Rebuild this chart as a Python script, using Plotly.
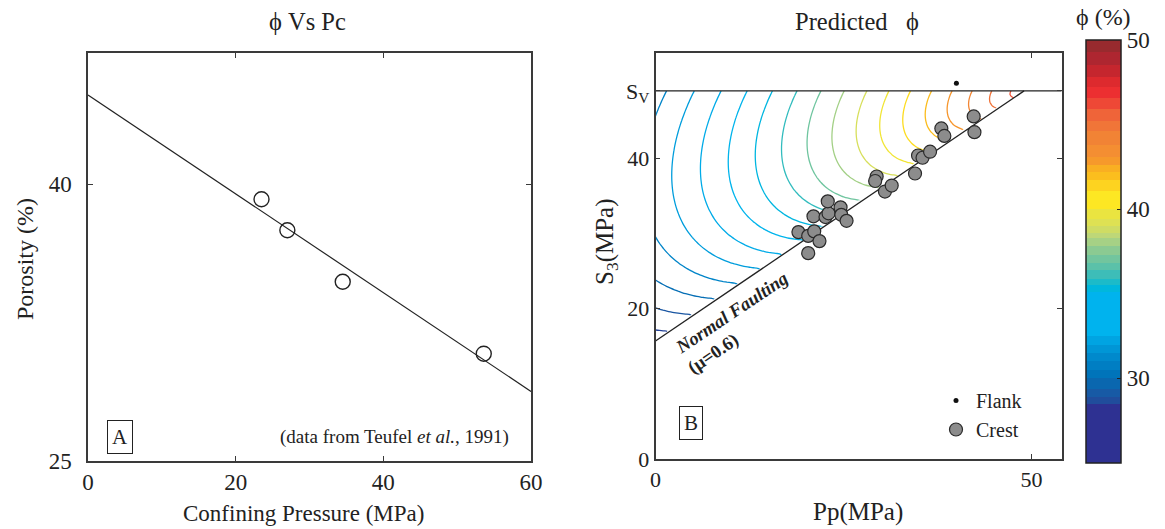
import numpy as np
import plotly.graph_objects as go

# ---- Teufel et al. (1991): porosity under hydrostatic loading -------------
pc_mpa = [23.5, 27.0, 34.5, 53.6]          # confining pressure (MPa)
porosity_pct = [39.0, 37.0, 33.9, 30.0]    # porosity (%)

# ---- field estimates: pore pressure vs. minimum horizontal stress ---------
crest_pp = [19.0, 20.3, 21.1, 21.8, 20.3, 21.0, 22.6, 23.0, 22.9, 24.6, 24.7, 25.4,
            29.4, 29.2, 30.5, 31.4, 34.5, 34.9, 35.5, 36.5, 38.0, 38.4, 42.3, 42.4]
crest_s3 = [30.2, 29.7, 30.3, 29.0, 27.4, 32.3, 32.2, 32.7, 34.3, 33.5, 32.5, 31.7,
            37.6, 37.0, 35.6, 36.4, 38.0, 40.4, 40.1, 40.9, 44.0, 43.0, 45.6, 43.5]
flank_pp = [40.0]
flank_s3 = [50.0]

SV = 49.0        # vertical (overburden) stress, MPa
MU = 0.6         # friction coefficient of the normal-faulting limit
CAP_M = 1.08     # aspect ratio of the elliptical compaction cap
PHI0 = 46.7      # porosity of the unloaded rock (%)
BETA = 116.0     # compaction length scale of the cap pressure (MPa)

# porosity colour table: lower edge of each band (%) and its colour
band_lo = [25, 28.5, 28.9, 29.4, 30, 30.5, 31, 31.5, 32, 32.5,
           35.1, 35.5, 35.9, 36.4, 36.8, 37.3, 37.8, 38.3, 38.6, 39,
           39.4, 40, 41.1, 41.7, 42.2, 42.6, 43.1, 43.8, 44.6, 45.2,
           45.9, 46.6, 47.2, 47.8, 48.5, 49.3]
band_col = ['#2E3192', '#204D9C', '#175AA5', '#0A67AF', '#0074BA', '#007EC3', '#0089CC',
            '#0096D6', '#00A4E2', '#00B3EE', '#00B7DD', '#1CBBC9', '#3DBDB8', '#5BC1A9',
            '#72C59E', '#8BCA92', '#A6D185', '#BED778', '#CFDC64', '#DEE153', '#EAE440',
            '#FDE723', '#FDD320', '#FBBE1E', '#F9AF22', '#F6992B', '#F48E32', '#F18335',
            '#F07538', '#EF6439', '#EE4836', '#EC2F31', '#DD2A2E', '#C5262E', '#AE2630',
            '#982A2E']
PHI_MIN, PHI_MAX = 25.0, 50.0

FONT = "Liberation Serif"
INK = "#222222"
W, H = 1165, 529

# ---- exponential compaction trend fitted to the laboratory data -----------
slope, intercept = np.polyfit(np.array(pc_mpa), np.log(porosity_pct), 1)
pc_line = np.array([0.0, 60.0])
phi_line = np.exp(intercept + slope * pc_line)

# ---- predicted porosity over (Pp, S3) using an elliptical cap -------------
X2_MAX, Y2_MAX = 54.0, 54.0
pp_grid = np.arange(0.0, X2_MAX + 1e-9, 0.5)
s3_grid = np.linspace(0.0, SV, int(round(SV / 0.5)) + 1)
PP, S3 = np.meshgrid(pp_grid, s3_grid)
fric = (np.sqrt(MU ** 2 + 1.0) + MU) ** 2
s3_fault = PP + (SV - PP) / fric
p_eff = (SV + S3) / 2.0 - PP
q_dev = SV - S3
with np.errstate(divide="ignore", invalid="ignore"):
    p_cap = p_eff + q_dev ** 2 / (CAP_M ** 2 * p_eff)
    phi_pred = PHI0 * np.exp(-p_cap / BETA)
phi_pred = np.where((S3 >= s3_fault - 1e-9) & (p_eff > 0), phi_pred, np.nan)

fault_pp = np.array([0.0, SV])
fault_s3 = fault_pp + (SV - fault_pp) / fric


# ---- colour scales ---------------------------------------------------------
def norm(v):
    return (v - PHI_MIN) / (PHI_MAX - PHI_MIN)


band_hi = band_lo[1:] + [PHI_MAX]
stepped = []
for lo, hi, c in zip(band_lo, band_hi, band_col):
    stepped.append([norm(lo), c])
    stepped.append([norm(hi), c])
smooth = [[0.0, band_col[0]]]
for lo, hi, c in zip(band_lo, band_hi, band_col):
    mid = norm((lo + hi) / 2.0)
    if mid > smooth[-1][0]:
        smooth.append([mid, c])
smooth.append([1.0, band_col[-1]])

fig = go.Figure()

# left panel: porosity vs confining pressure
fig.add_trace(go.Scatter(x=pc_line, y=phi_line, mode="lines",
                         line=dict(color=INK, width=1.2), showlegend=False,
                         xaxis="x", yaxis="y", hoverinfo="skip"))
fig.add_trace(go.Scatter(x=pc_mpa, y=porosity_pct, mode="markers",
                         marker=dict(symbol="circle-open", size=15, color=INK,
                                     line=dict(width=1.4)),
                         showlegend=False, xaxis="x", yaxis="y"))

# right panel: porosity contours
fig.add_trace(go.Contour(x=pp_grid, y=s3_grid, z=phi_pred, xaxis="x2", yaxis="y2",
                         autocontour=False,
                         contours=dict(coloring="lines", start=PHI_MIN, end=PHI_MAX, size=1),
                         colorscale=smooth, zmin=PHI_MIN, zmax=PHI_MAX,
                         line=dict(width=1.3), showscale=False, connectgaps=False,
                         hoverinfo="skip", showlegend=False))
fig.add_trace(go.Scatter(x=[0.0, X2_MAX], y=[SV, SV], mode="lines",
                         line=dict(color=INK, width=1.3), showlegend=False,
                         xaxis="x2", yaxis="y2", hoverinfo="skip"))
fig.add_trace(go.Scatter(x=fault_pp, y=fault_s3, mode="lines",
                         line=dict(color=INK, width=1.3), showlegend=False,
                         xaxis="x2", yaxis="y2", hoverinfo="skip"))
fig.add_trace(go.Scatter(x=flank_pp, y=flank_s3, mode="markers", name="Flank",
                         marker=dict(size=5, color="#111111"),
                         xaxis="x2", yaxis="y2"))
fig.add_trace(go.Scatter(x=crest_pp, y=crest_s3, mode="markers", name="Crest",
                         marker=dict(size=13, color="#8C8C8C",
                                     line=dict(color="#2A2A2A", width=1.2)),
                         xaxis="x2", yaxis="y2"))

# colour bar
CB_TOP, CB_BOTTOM = 40.0, 463.0
fig.add_trace(go.Scatter(x=[None], y=[None], mode="markers", showlegend=False,
                         xaxis="x2", yaxis="y2", hoverinfo="skip",
                         marker=dict(color=[PHI_MIN], cmin=PHI_MIN, cmax=PHI_MAX,
                                     colorscale=stepped, showscale=True,
                                     colorbar=dict(
                                         x=1085.7 / W, xanchor="left", xpad=0,
                                         y=(H - (CB_TOP + CB_BOTTOM) / 2) / H,
                                         yanchor="middle", ypad=0,
                                         len=(CB_BOTTOM - CB_TOP) / H, lenmode="fraction",
                                         thickness=35, thicknessmode="pixels",
                                         outlinewidth=1.5, outlinecolor=INK,
                                         tickvals=[30, 40, 50], ticks="inside",
                                         ticklen=4, tickcolor=INK,
                                         tickfont=dict(family=FONT, size=23, color=INK)))))

axis_common = dict(showline=True, linecolor="#3A3A3A", linewidth=1.5, mirror="ticks",
                   ticks="inside", ticklen=5, tickcolor="#3A3A3A", tickwidth=1.2,
                   showgrid=False, zeroline=False)
font_left = dict(family=FONT, size=23, color=INK)
font_right = dict(family=FONT, size=22, color=INK)

fig.update_layout(
    width=W, height=H, margin=dict(l=0, r=0, t=0, b=0, autoexpand=False),
    paper_bgcolor="white", plot_bgcolor="white",
    font=dict(family=FONT, color=INK),
    xaxis=dict(domain=[88 / W, 531 / W], anchor="y", range=[0, 60],
               tickvals=[0, 20, 40, 60], tickfont=font_left, ticklabelstandoff=0,
               **axis_common),
    yaxis=dict(domain=[(H - 461) / H, (H - 53) / H], anchor="x", type="log",
               range=[np.log10(25), np.log10(50)], tickvals=[25, 40],
               tickfont=font_left, ticklabelstandoff=10, **axis_common),
    xaxis2=dict(domain=[655.5 / W, 1061.7 / W], anchor="y2", range=[0, X2_MAX],
                tickvals=[0, 50], tickfont=font_right, **axis_common),
    yaxis2=dict(domain=[(H - 459) / H, (H - 53.3) / H], anchor="x2", range=[0, Y2_MAX],
                tickvals=[0, 20, 40, SV], ticktext=["0", "20", "40", "S<sub>V</sub>"],
                tickfont=font_right, **axis_common),
    legend=dict(x=936 / W, y=(H - 381) / H, xanchor="left", yanchor="top",
                bgcolor="rgba(0,0,0,0)", font=dict(family=FONT, size=20, color=INK),
                itemsizing="trace", tracegroupgap=0),
)


def label(text, x, y, size=20, angle=0, xanchor="center", **kw):
    fig.add_annotation(text=text, x=x / W, y=(H - y) / H, xref="paper", yref="paper",
                       xanchor=xanchor, yanchor="middle",
                       showarrow=False, textangle=angle,
                       font=dict(family=FONT, size=size, color=INK), **kw)


label("\u03d5 Vs Pc", 307.5, 21, size=24.5)
label("Predicted&nbsp;&nbsp;&nbsp;\u03d5", 857, 21, size=24.5)
label("\u03d5 (%)", 1103, 17, size=24)
label("Confining Pressure (MPa)", 303.5, 513, size=23)
label("Porosity (%)", 25, 259, size=24, angle=-90)
label("Pp(MPa)", 857.5, 512, size=25)
label("S<sub>3</sub>(MPa)", 606, 242, size=25, angle=-90)
label("A", 120, 437, size=21, bordercolor=INK, borderwidth=1, borderpad=4)
label("B", 691, 423, size=21, bordercolor=INK, borderwidth=1, borderpad=4)
label("(data from Teufel <i>et al.</i>, 1991)", 511, 437, size=19, xanchor="right")
label("<b><i>Normal Faulting</i></b>", 731.5, 312.5, size=18.5, angle=-33.9)
label("<b>(\u03bc=0.6)</b>", 712.5, 354, size=18.5, angle=-33.9)

fig.write_html("out.html")
